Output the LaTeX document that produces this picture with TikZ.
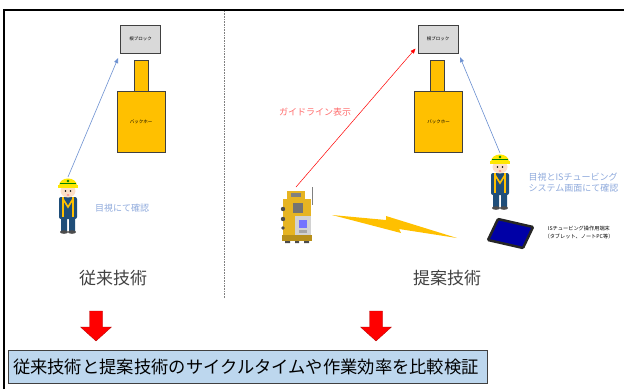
\documentclass[tikz,border=0pt]{standalone}
\usepackage{fontspec}
\setmainfont{Noto Sans CJK JP}
\usepackage{xcolor}
\usepackage{tikz}
\usetikzlibrary{arrows.meta,positioning,calc}

\definecolor{bhyellow}{HTML}{FFC000}
\definecolor{blockgray}{HTML}{D9D9D9}
\definecolor{edgegray}{HTML}{404040}
\definecolor{notegray}{HTML}{8FAADC}
\definecolor{guidered}{HTML}{FF6B6B}
\definecolor{sightblue}{HTML}{4472C4}
\definecolor{boxblue}{HTML}{BDD7EE}
\definecolor{navy}{HTML}{1F4E79}
\definecolor{skin}{HTML}{FCE0C8}
\definecolor{tsyellow}{HTML}{E6B422}

% worker in helmet and vest, origin at top of helmet
\tikzset{
  worker/.pic={
    \coordinate (-head) at (0,0);
    \fill[navy,rounded corners=2pt] (-9,20) rectangle (9,42);
    \fill[navy] (-7,41) rectangle (-1,54) (1,41) rectangle (7,54);
    \fill[black!70] (-4,55) ellipse (4 and 1.8) (4,55) ellipse (4 and 1.8);
    \draw[bhyellow,line width=2.2pt] (-5,20) -- (-5,40) (5,20) -- (5,40);
    \draw[bhyellow,line width=1.6pt] (-5,22) -- (0,30) -- (5,22);
    \fill[skin] (0,14) ellipse (7.5 and 6.5);
    \fill[black] (-2.5,14) circle (0.8) (2.5,14) circle (0.8);
    \fill[red!50] (0,18) ellipse (1.5 and 0.8);
    \fill[yellow!90!orange] (-9,9) .. controls (-9,-1) and (9,-1) .. (9,9) -- cycle;
    \fill[yellow!90!orange] (-10,8) rectangle (10,10.5);
    \fill[green!50!black] (-8,5.5) rectangle (8,7);
    \fill[green!50!black] (0,4) circle (1.3);
  },
  % total station on its base, origin at body centre
  station/.pic={
    \coordinate (-top) at (-1,-28);
    \draw[gray,line width=0.8pt] (15,-28) -- (15,-10);
    \fill[tsyellow] (-10,-24) rectangle (8,-15);
    \fill[black!50] (-6,-22) rectangle (4,-18);
    \fill[tsyellow] (-14,-16) rectangle (14,20);
    \fill[black!70] (-14,-6) circle (2.2) (-14,4) circle (2.2) (-14,13) circle (1.8);
    \fill[black!55] (-4,-12) rectangle (6,-2);
    \fill[gray!35] (-2,1) rectangle (14,20);
    \fill[blue!55] (2,5) rectangle (10,13);
    \fill[gray!70] (2,15) rectangle (10,18);
    \fill[tsyellow!80!black] (-15,20) rectangle (15,26);
    \fill[black!70] (-12,26) rectangle (-7,28) (7,26) rectangle (12,28) (-2,26) rectangle (2,28);
  },
  % block arrow pointing down, origin at tip
  downarrow/.pic={
    \fill[red,draw=red!70!black,line width=0.3pt]
      (0,0) -- (-15.5,-14) -- (-6.5,-14) -- (-6.5,-30) -- (6.5,-30) -- (6.5,-14) -- (15.5,-14) -- cycle;
  }
}

\begin{document}
\begin{tikzpicture}[
  x=1pt,y=-1pt,
  block/.style={draw=edgegray,line width=1pt,fill=blockgray,minimum width=40pt,minimum height=28pt,font=\fontsize{4.5}{5}\selectfont},
  arm/.style={draw=edgegray,line width=1pt,fill=bhyellow,minimum width=14pt,minimum height=43pt},
  body/.style={draw=edgegray,line width=1pt,fill=bhyellow,minimum width=48pt,minimum height=61pt,font=\fontsize{4.5}{5}\selectfont},
  note/.style={text=notegray,font=\fontsize{9}{11}\selectfont,align=left},
  title/.style={text=black!75,font=\fontsize{17}{20}\selectfont},
  sight/.style={-{Triangle[length=5pt,width=4pt]},sightblue!80,line width=0.6pt},
  guide/.style={-{Triangle[length=5pt,width=4pt]},red,line width=0.5pt}
]
\useasboundingbox (0,0) rectangle (624,389);

% frame and divider
\draw[black,line width=1.5pt] (4,389) |- (624,10);
\draw[gray,densely dotted,line width=0.6pt] (224,11) -- (224,298);

% conventional method
\node[block] (blockL) at (140.5,39) {根ブロック};
\node[arm] (armL) at (141,81.5) {};
\node[body] (bodyL) at (141,121.5) {バックホー};
\pic (wL) at (68,177) {worker};
\node[note] (noteL) at (122,208) {目視にて確認};
\node[title] (titleL) at (113,278) {従来技術};
\draw[sight,shorten >=5pt] (wL-head) -- (blockL.south west);

% proposed method
\node[block] (blockR) at (438,39) {根ブロック};
\node[arm] (armR) at (437.5,81.5) {};
\node[body] (bodyR) at (438.5,122) {バックホー};
\pic (wR) at (500,153) {worker};
\pic (ts) at (297,215) {station};
\node[note,anchor=west] (noteR) at (525,183) {目視とISチュービング\\システム画面にて確認};
\node[text=guidered,font=\fontsize{9}{11}\selectfont] (guideLbl) at (315,112) {ガイドライン表示};
\node[title] (titleR) at (447,278) {提案技術};
\draw[guide] (ts-top) -- ($(blockR.south west)+(-2,-5)$);
\draw[sight,shorten >=4pt] (wR-head) -- (blockR.south east);

% radio link to the tablet
\fill[bhyellow] (332,215) -- (386,220) -- (386,216) -- (457,238) -- (399,229) -- (401,233) -- cycle;
\filldraw[draw=black!85,line width=2.5pt,fill=blue!65!black,rounded corners=1pt]
  (498,219) -- (533,227) -- (523,248) -- (488,240) -- cycle;
\node[font=\fontsize{5.2}{8}\selectfont,align=center] (tabletLbl) at (579,233) {ISチュービング操作用端末\\（タブレット、ノートPC等）};

% comparison
\pic (downL) at (96,341) {downarrow};
\pic (downR) at (376,341) {downarrow};
\node[draw=edgegray,line width=1pt,fill=boxblue,minimum width=479pt,minimum height=33pt,
  text width=470pt,align=left,font=\fontsize{17.3}{20}\selectfont,anchor=north west] (result) at (8,350)
  {従来技術と提案技術のサイクルタイムや作業効率を比較検証};
\end{tikzpicture}
\end{document}
